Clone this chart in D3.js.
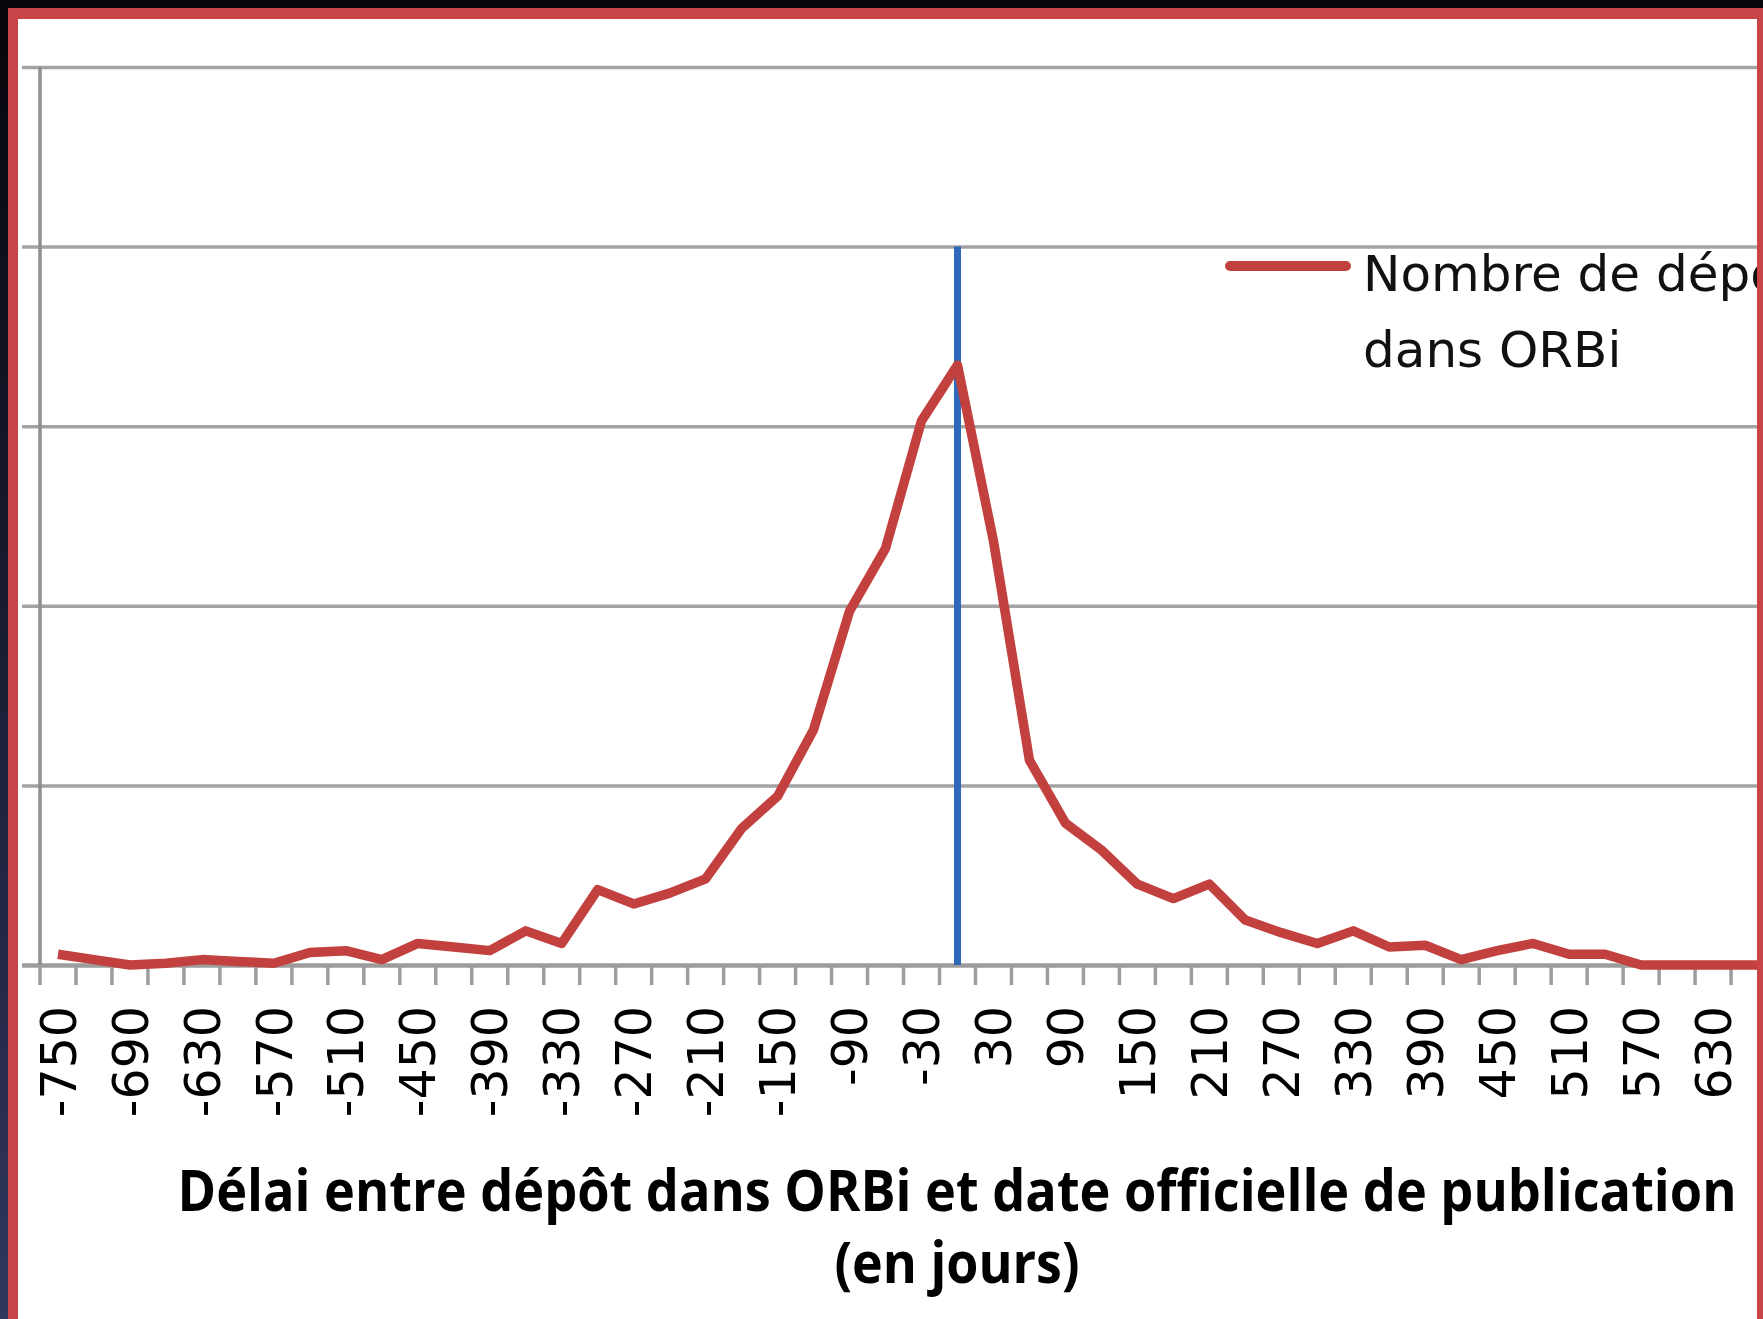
<!DOCTYPE html>
<html>
<head>
<meta charset="utf-8">
<title>Délai entre dépôt dans ORBi et date officielle de publication</title>
<script src="https://d3js.org/d3.v7.min.js"></script>
<style>
body {
	margin: 0;
	background-color: black;
	overflow: hidden;
}
svg {
	display: block;
}
.grid line {
	stroke: #a3a3a3;
	stroke-width: 3.5px;
}
.xlabels text {
	font-family: "DejaVu Sans", Verdana, sans-serif;
	font-size: 49px;
	fill: black;
}
.legend text {
	font-family: "DejaVu Sans", Verdana, sans-serif;
	font-size: 50px;
	fill: #111;
}
.title text {
	font-family: "Liberation Sans Narrow", "Open Sans", sans-serif;
	font-weight: bold;
	font-size: 58px;
	fill: black;
}
</style>
</head>
<body>
<div id="graph"></div>
<script>
/* globals d3 */
(function() {
"use strict";

// categories: delay in days, one every 30 days
const categories = [
	-750, -720, -690, -660, -630, -600, -570, -540, -510, -480,
	-450, -420, -390, -360, -330, -300, -270, -240, -210, -180,
	-150, -120, -90, -60, -30, 0, 30, 60, 90, 120,
	150, 180, 210, 240, 270, 300, 330, 360, 390, 420,
	450, 480, 510, 540, 570, 600, 630, 660, 690, 720
];
// number of deposits (axis labels are cropped away)
const deposits = [
	6, 3, 0, 1, 3, 2, 1, 7, 8, 3,
	12, 10, 8, 19, 12, 42, 34, 40, 48, 76,
	94, 131, 197, 232, 303, 334, 236, 114, 79, 64,
	45, 37, 45, 25, 18, 12, 19, 10, 11, 3,
	8, 12, 6, 6, 0, 0, 0, 0, 0, 0
];
const labelledCategories = [
	-750, -690, -630, -570, -510, -450, -390, -330, -270, -210,
	-150, -90, -30, 30, 90, 150, 210, 270, 330, 390,
	450, 510, 570, 630
];
const yTicks = [0, 100, 200, 300, 400, 500];
const publicationDay = 0;
const markerTop = 400;
const legendLines = ["Nombre de dépôts", "dans ORBi"];
const titleLines = ["Délai entre dépôt dans ORBi et date officielle de publication", "(en jours)"];

function main()
{
	const width = 1763, height = 1319;
	const plot = {left: 40, top: 67, bottom: 965, step: 35.98};

	const svg = d3.select("#graph")
		.append("svg")
			.attr("width", width)
			.attr("height", height);

	// dark surround, red frame, white page
	const defs = svg.append("defs");
	const grad = defs.append("linearGradient")
		.attr("id", "edge")
		.attr("x1", 0).attr("y1", 0).attr("x2", 0).attr("y2", 1);
	grad.append("stop").attr("offset", "0%").attr("stop-color", "#05060a");
	grad.append("stop").attr("offset", "100%").attr("stop-color", "#30365e");
	defs.append("clipPath")
		.attr("id", "page")
		.append("rect")
			.attr("x", 18).attr("y", 19)
			.attr("width", 1757 - 18).attr("height", height);

	svg.append("rect").attr("width", width).attr("height", height).attr("fill", "#05060a");
	svg.append("rect").attr("width", 8).attr("height", height).attr("fill", "url(#edge)");
	svg.append("rect")
		.attr("x", 8).attr("y", 8)
		.attr("width", width).attr("height", height)
		.attr("fill", "#c84446");
	svg.append("rect")
		.attr("x", 18).attr("y", 19)
		.attr("width", 1757 - 18).attr("height", height)
		.attr("fill", "white");

	const g = svg.append("g").attr("clip-path", "url(#page)");

	const xScale = d3.scaleBand()
		.domain(categories)
		.range([plot.left, plot.left + categories.length * plot.step]);
	const half = xScale.bandwidth() / 2;
	const yScale = d3.scaleLinear([0, d3.max(yTicks)], [plot.bottom, plot.top]);

	// horizontal gridlines, with the outside tick marks on the left
	const gY = g.append("g")
		.attr("class", "grid")
		.attr("transform", "translate(" + plot.left + ",0)")
		.call(d3.axisLeft(yScale)
			.tickValues(yTicks)
			.tickSizeInner(-(categories.length * plot.step))
			.tickSizeOuter(0)
			.tickFormat(""));
	gY.select(".domain").remove();
	gY.selectAll(".tick line").attr("x1", -18);
	gY.selectAll(".tick").filter(d => d === 0).select("line")
		.style("stroke", "#9c9c9c")
		.style("stroke-width", "4.5px");

	// vertical axis line
	g.append("line")
		.attr("x1", plot.left).attr("x2", plot.left)
		.attr("y1", yScale(d3.max(yTicks))).attr("y2", yScale(0))
		.attr("stroke", "#8f8f8f")
		.attr("stroke-width", 3.5);

	// tick marks on category boundaries
	g.append("g")
		.selectAll("line")
		.data(categories)
		.join("line")
			.attr("x1", d => xScale(d))
			.attr("x2", d => xScale(d))
			.attr("y1", yScale(0))
			.attr("y2", yScale(0) + 20)
			.attr("stroke", "#9d9d9d")
			.attr("stroke-width", 3.5);

	// rotated category labels, every second category
	const gX = svg.append("g")
		.attr("class", "xlabels")
		.attr("transform", "translate(0," + plot.bottom + ")")
		.call(d3.axisBottom(xScale).tickValues(labelledCategories).tickSize(0));
	gX.select(".domain").remove();
	gX.selectAll("text")
		.attr("transform", "rotate(-90)")
		.attr("text-anchor", "end")
		.attr("x", -41)
		.attr("y", 0)
		.attr("dy", "0.36em")
		.attr("fill", "black");
	gX.attr("font-family", null).attr("font-size", null);

	// publication date marker
	g.append("line")
		.attr("x1", xScale(publicationDay) + half)
		.attr("x2", xScale(publicationDay) + half)
		.attr("y1", yScale(markerTop))
		.attr("y2", yScale(0))
		.attr("stroke", "#2f68b8")
		.attr("stroke-width", 7);

	// deposits series
	const series = categories.map((c, i) => [c, deposits[i]]);
	g.append("path")
		.datum(series)
		.attr("fill", "none")
		.attr("stroke", "#c2413e")
		.attr("stroke-width", 9.5)
		.attr("stroke-linejoin", "round")
		.attr("d", d3.line()
			.x(([c]) => xScale(c) + half)
			.y(([, v]) => yScale(v)));

	// legend (cut by the frame on the right, as in the source picture)
	const legend = g.append("g").attr("class", "legend");
	legend.append("line")
		.attr("x1", 1230).attr("x2", 1346)
		.attr("y1", 266).attr("y2", 266)
		.attr("stroke", "#c2413e")
		.attr("stroke-width", 10)
		.attr("stroke-linecap", "round");
	legend.selectAll("text")
		.data(legendLines)
		.join("text")
			.attr("x", 1363)
			.attr("y", (d, i) => 291 + i * 76)
			.text(d => d);

	// axis title
	const title = svg.append("g").attr("class", "title");
	const titleWidths = [1559, 245];
	title.selectAll("text")
		.data(titleLines)
		.join("text")
			.attr("x", 957)
			.attr("y", (d, i) => 1211 + i * 72)
			.attr("text-anchor", "middle")
			.attr("textLength", (d, i) => titleWidths[i])
			.attr("lengthAdjust", "spacingAndGlyphs")
			.text(d => d);
}
window.addEventListener("DOMContentLoaded", main);
})();
</script>
</body>
</html>
